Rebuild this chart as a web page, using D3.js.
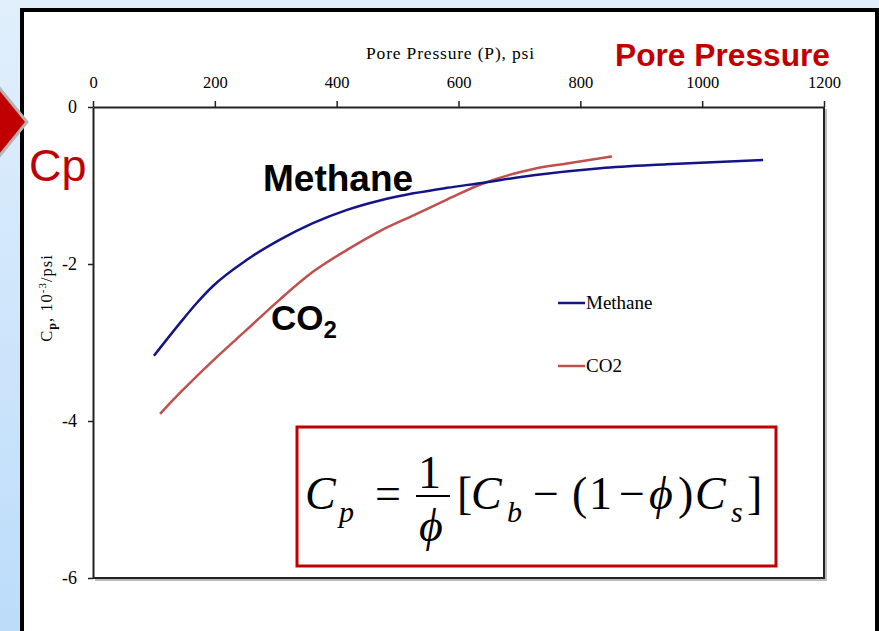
<!DOCTYPE html>
<html><head><meta charset="utf-8">
<script src="https://cdn.jsdelivr.net/npm/d3@7"></script>
<style>html,body{margin:0;padding:0;overflow:hidden;background:#fff}</style>
</head><body>
<svg id="c" width="879" height="631"></svg>
<script>
// ---- data ----
const xTicks = [0, 200, 400, 600, 800, 1000, 1200];
const yTicks = [0, -2, -4, -6];
const methaneP  = [100, 143, 170, 197, 252, 307, 361, 417, 471, 526, 581, 635, 723, 833, 942, 1100];
const methaneCp = [-3.17, -2.75, -2.50, -2.28, -1.95, -1.69, -1.48, -1.31, -1.19, -1.10, -1.03, -0.97, -0.87, -0.78, -0.73, -0.675];
const co2P  = [110, 143, 197, 252, 307, 361, 417, 471, 526, 581, 635, 723, 778, 852];
const co2Cp = [-3.91, -3.64, -3.23, -2.84, -2.45, -2.10, -1.82, -1.58, -1.38, -1.18, -0.99, -0.79, -0.72, -0.63];
const seriesNames = ["Methane", "CO2"];

const svg = d3.select("#c");
const defs = svg.append("defs");
const g1 = defs.append("linearGradient").attr("id","bg").attr("x1",0).attr("y1",0).attr("x2",0).attr("y2",1);
g1.append("stop").attr("offset","0").attr("stop-color","#e1effc");
g1.append("stop").attr("offset","1").attr("stop-color","#bcdcfa");

// background
svg.append("rect").attr("x",0).attr("y",0).attr("width",879).attr("height",631).attr("fill","url(#bg)");
// white panel
svg.append("rect").attr("x",22).attr("y",10).attr("width",855).attr("height",640)
  .attr("fill","#fff").attr("stroke","#000").attr("stroke-width",4);

// red arrow
svg.append("path").attr("d","M-4,84 L27,122 L-4,160 Z")
  .attr("fill","#c00000").attr("stroke","#b4b4b4").attr("stroke-width",3).attr("stroke-linejoin","miter");

const x = d3.scaleLinear().domain([0,1200]).range([93,824]);
const y = d3.scaleLinear().domain([0,-6]).range([107,578]);

// plot frame shadow + frame
svg.append("path").attr("d",`M${x(0)+2},${y(-6)+2} H${x(1200)+2} V${y(0)+2}`)
  .attr("fill","none").attr("stroke","#bbb").attr("stroke-width",2);
svg.append("path").attr("d",`M${x(0)},${y(-6)} H${x(1200)} V${y(0)}`)
  .attr("fill","none").attr("stroke","#222").attr("stroke-width",2);

const serif = "'Liberation Serif','Times New Roman',serif";
const sans = "'Liberation Sans',Arial,sans-serif";

// top x axis
const xa = svg.append("g").attr("transform",`translate(0,${y(0)})`)
  .call(d3.axisTop(x).tickValues(xTicks).tickSize(6).tickSizeOuter(0).tickFormat(d3.format("d")));
xa.select(".domain").attr("stroke","#222").attr("stroke-width",2);
xa.selectAll(".tick line").attr("stroke","#222").attr("stroke-width",1.5);
xa.selectAll(".tick text").attr("font-family",serif).attr("font-size",16.5).attr("fill","#000").attr("y",-19).attr("dy",0);

// left y axis
const ya = svg.append("g").attr("transform",`translate(${x(0)},0)`)
  .call(d3.axisLeft(y).tickValues(yTicks).tickSize(5).tickSizeOuter(0).tickFormat(d=>d===0?"0":String(d).replace("−","-")));
ya.select(".domain").attr("stroke","#222").attr("stroke-width",2);
ya.selectAll(".tick line").attr("stroke","#222").attr("stroke-width",1.5);
ya.selectAll(".tick text").attr("font-family",serif).attr("font-size",18).attr("fill","#000").attr("x",-16);

// axis titles
svg.append("text").attr("x",450).attr("y",59).attr("text-anchor","middle")
  .attr("font-family",serif).attr("font-size",17.5).attr("textLength",168).attr("lengthAdjust","spacing")
  .text("Pore Pressure (P), psi");
const yt = svg.append("text").attr("transform","translate(52,298) rotate(-90)").attr("text-anchor","middle")
  .attr("font-family",serif).attr("font-size",16.5).attr("letter-spacing",1);
yt.append("tspan").text("C");
yt.append("tspan").attr("font-size",12).attr("font-weight","bold").attr("dy",4).text("p");
yt.append("tspan").attr("dy",-4).text(", 10");
yt.append("tspan").attr("font-size",11).attr("dy",-6).text("-3");
yt.append("tspan").attr("dy",6).text("/psi");

// red annotations
svg.append("text").attr("x",615).attr("y",66).attr("font-family",sans).attr("font-weight","bold")
  .attr("font-size",31).attr("fill","#c00000").attr("textLength",215).attr("lengthAdjust","spacingAndGlyphs")
  .text("Pore Pressure");
svg.append("text").attr("x",29).attr("y",181).attr("font-family",sans)
  .attr("font-size",45).attr("fill","#c00000").text("Cp");

// lines
const colors = {Methane:"#141488", CO2:"#c0504d"};
const line = d3.line().x(d=>x(d[0])).y(d=>y(d[1])).curve(d3.curveMonotoneX);
const mData = methaneP.map((p,i)=>[p,methaneCp[i]]);
const cData = co2P.map((p,i)=>[p,co2Cp[i]]);
svg.append("path").datum(cData).attr("d",line).attr("fill","none").attr("stroke",colors.CO2).attr("stroke-width",2.5);
svg.append("path").datum(mData).attr("d",line).attr("fill","none").attr("stroke",colors.Methane).attr("stroke-width",2.5);

// big labels
svg.append("text").attr("x",263).attr("y",191).attr("font-family",sans).attr("font-weight","bold")
  .attr("font-size",37).attr("fill","#000").text("Methane");
const co = svg.append("text").attr("x",271).attr("y",330).attr("font-family",sans).attr("font-weight","bold")
  .attr("font-size",35).attr("fill","#000");
co.append("tspan").text("CO");
co.append("tspan").attr("font-size",24).attr("dy",8).text("2");

// legend
const legY = [303, 366];
seriesNames.forEach((n,i)=>{
  svg.append("line").attr("x1",558).attr("x2",585).attr("y1",legY[i]).attr("y2",legY[i])
    .attr("stroke",colors[n]).attr("stroke-width",2.5);
  svg.append("text").attr("x",586).attr("y",legY[i]+6).attr("font-family",serif).attr("font-size",19)
    .text(n);
});

// formula box
svg.append("rect").attr("x",297).attr("y",427).attr("width",479).attr("height",139)
  .attr("fill","#fff").attr("stroke","#c00000").attr("stroke-width",3);
function t(xp,yp,s,opt={}){
  return svg.append("text").attr("x",xp).attr("y",yp).attr("font-family",serif)
    .attr("font-size",opt.size||46).attr("font-style",opt.italic?"italic":"normal").text(s);
}
t(305,509,"C",{italic:true});
t(339,522,"p",{italic:true,size:30});
t(375,509,"=");
t(418,488,"1");
svg.append("line").attr("x1",416).attr("x2",450).attr("y1",496).attr("y2",496).attr("stroke","#000").attr("stroke-width",2);
t(419,541,"ϕ",{italic:true});
t(457,509,"[");
t(471,509,"C",{italic:true});
t(507,522,"b",{italic:true,size:30});
t(533,509,"−");
t(572,509,"(");
t(589,509,"1");
t(619,509,"−");
t(649,509,"ϕ",{italic:true});
t(678,509,")");
t(695,509,"C",{italic:true});
t(731,522,"s",{italic:true,size:30});
t(747,509,"]");
</script>
</body></html>
